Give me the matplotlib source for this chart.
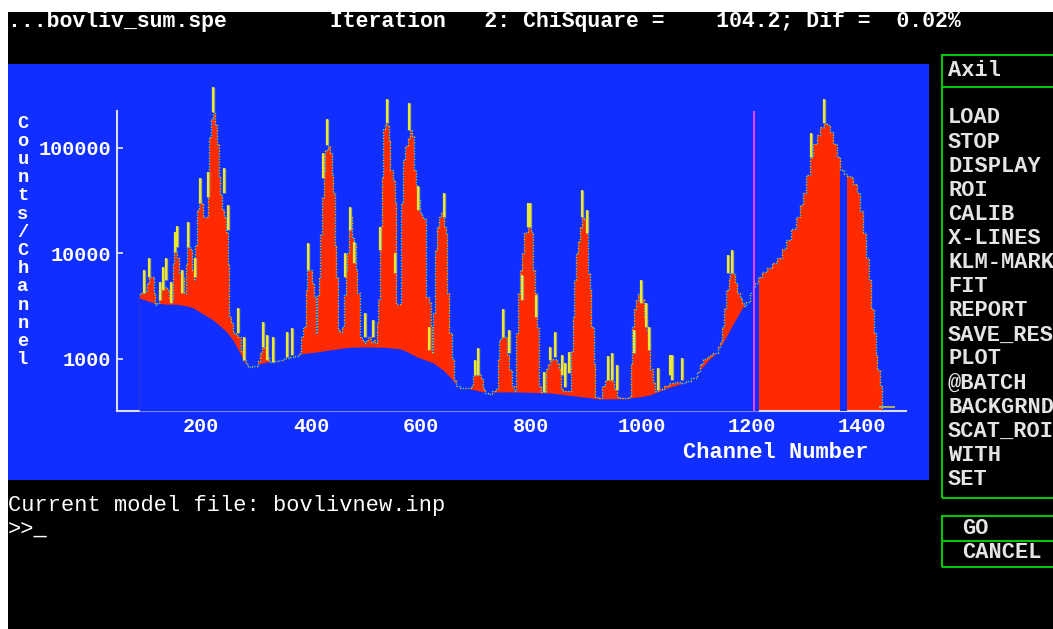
import numpy as np
import matplotlib.pyplot as plt
from matplotlib.patches import Rectangle
from matplotlib.lines import Line2D
from matplotlib.ticker import NullLocator

plt.rcParams['font.family'] = ['Liberation Mono', 'DejaVu Sans Mono']
plt.rcParams['font.weight'] = 'bold'

W, H = 1053, 629  # screen size, pixels

spec_ch = [88, 92, 97, 102, 105, 110, 114, 117, 121, 124, 127, 133, 138, 142, 146,
           149, 151, 156, 160, 166, 170, 173, 175, 180, 184, 187, 190, 193, 197, 201,
           204, 208, 212, 215, 219, 222, 226, 229, 232, 235, 238, 242, 245, 249, 251,
           255, 258, 263, 268, 272, 276, 281, 285, 289, 293, 298, 303, 307, 311, 316,
           320, 324, 330, 340, 350, 360, 370, 378, 382, 386, 390, 393, 402, 405, 408,
           411, 414, 417, 420, 423, 425, 430, 435, 438, 440, 443, 446, 449, 453, 456,
           460, 463, 465, 468, 471, 474, 477, 481, 484, 488, 492, 496, 500, 504, 508,
           512, 516, 519, 522, 525, 528, 531, 534, 538, 541, 544, 548, 552, 555, 562,
           564, 567, 571, 575, 579, 583, 586, 590, 594, 597, 601, 605, 608, 614, 617,
           620, 622, 625, 628, 632, 636, 639, 642, 645, 647, 651, 655, 659, 663, 670,
           680, 690, 694, 698, 704, 708, 712, 716, 722, 728, 735, 739, 742, 745, 752,
           756, 760, 764, 768, 772, 776, 779, 782, 786, 790, 793, 799, 802, 806, 810,
           813, 818, 824, 826, 830, 834, 840, 846, 850, 854, 858, 866, 872, 875, 878,
           881, 884, 888, 891, 896, 899, 902, 906, 909, 913, 916, 922, 928, 934, 940,
           946, 950, 955, 961, 968, 976, 980, 983, 986, 989, 993, 997, 1001, 1005, 1009,
           1012, 1016, 1020, 1024, 1030, 1040, 1050, 1060, 1070, 1080, 1090, 1100, 1106, 1112, 1118,
           1124, 1130, 1136, 1139, 1142, 1146, 1150, 1154, 1158, 1161, 1166, 1170, 1174, 1178, 1182,
           1186, 1190, 1196, 1202, 1206, 1212, 1218, 1227, 1236, 1245, 1254, 1263, 1272, 1281, 1287,
           1293, 1299, 1306, 1312, 1318, 1324, 1331, 1336, 1342, 1348, 1354, 1361, 1367, 1373, 1378,
           1384, 1391, 1396, 1402, 1407, 1412, 1417, 1421, 1425, 1428, 1433, 1436]
spec_cnt = [4100, 4230, 4400, 5200, 6000, 5990, 4200, 3250, 3400, 4400, 4800, 4800, 4500, 3800, 3620,
            8000, 10300, 9000, 6500, 6000, 4200, 8000, 11500, 11000, 7000, 5600, 12000, 26000, 32000, 30000,
            22000, 22000, 40000, 127000, 190000, 218000, 165000, 110000, 53000, 36000, 26000, 22000, 16000, 8000, 2500,
            2200, 1760, 1700, 1620, 1200, 980, 900, 840, 830, 850, 860, 950, 1150, 1300, 1250,
            1050, 940, 950, 980, 1010, 1040, 1070, 1150, 1600, 2000, 4500, 6950, 5200, 3870, 1760,
            4000, 6000, 15000, 34000, 60000, 95000, 105000, 90000, 55000, 37400, 12000, 6000, 1880, 1800, 2000,
            4000, 7000, 10100, 18000, 22000, 14000, 12600, 7000, 4200, 1620, 1500, 1420, 1500, 1620, 1450,
            1500, 1420, 2200, 3600, 18000, 53000, 150000, 170000, 165000, 120000, 62000, 50000, 30000, 3300, 3300,
            30000, 77000, 105000, 125000, 148000, 130000, 62000, 43000, 33000, 24000, 22000, 21000, 3870, 3500, 2000,
            1140, 2700, 10800, 18000, 22000, 24000, 26000, 18000, 15500, 4200, 1760, 1000, 630, 560, 530,
            530, 550, 700, 705, 720, 650, 520, 475, 470, 500, 520, 1000, 1500, 1620, 1600,
            1100, 786, 550, 500, 1760, 4200, 7000, 10000, 15500, 16000, 17800, 16000, 7000, 4200, 2000,
            550, 490, 500, 800, 900, 980, 990, 920, 800, 520, 500, 500, 1200, 2500, 5600,
            10000, 13000, 18000, 22000, 21000, 15500, 6500, 4500, 2000, 900, 436, 430, 560, 630, 640,
            620, 520, 440, 430, 430, 440, 900, 2000, 3000, 3600, 4100, 4230, 3700, 2500, 1800,
            1450, 800, 600, 500, 520, 560, 590, 600, 590, 620, 660, 760, 900, 1000, 1050,
            1100, 1130, 1140, 1300, 1450, 2000, 3000, 4500, 5800, 6530, 6400, 5200, 4200, 3800, 3400,
            3200, 3500, 4200, 4810, 5200, 5990, 6600, 7260, 8100, 9060, 11000, 13400, 17000, 22200, 29000,
            37400, 55000, 82200, 110000, 133000, 158000, 172000, 165000, 141000, 110000, 82000, 62000, 57000, 54000, 53000,
            46000, 37400, 25000, 15500, 9000, 5600, 3000, 1760, 1100, 790, 550, 321]

# fitted continuum under the peaks
bg_ch = [88, 100, 115, 138, 156, 174, 186, 198, 210, 222, 235, 247, 258, 265, 271,
         277, 283, 290, 300, 310, 320, 340, 356, 380, 410, 440, 470, 500, 531, 561,
         576, 592, 607, 622, 640, 652, 664, 683, 712, 773, 834, 894, 925, 966, 1000,
         1015, 1046, 1075, 1106, 1120, 1136, 1150, 1165, 1184, 1202, 1212]
bg_cnt = [3790, 3600, 3400, 3300, 3300, 3180, 3050, 2790, 2560, 2340, 2050, 1800, 1510, 1300, 1140,
          980, 877, 850, 880, 910, 935, 980, 1020, 1115, 1165, 1230, 1290, 1300, 1290, 1250,
          1160, 1045, 980, 916, 780, 675, 567, 530, 487, 487, 476, 436, 418, 420, 440,
          456, 530, 590, 786, 960, 1140, 1500, 2100, 3120, 4810, 5990]

# residual markers (yellow bars): channel, lower and upper count
res_ch = [97, 106, 126, 131, 136, 145, 152, 157, 165, 176, 189, 198, 213, 222, 242,
          249, 268, 278, 312, 320, 331, 356, 365, 394, 421, 428, 461, 470, 478, 498,
          512, 525, 537, 552, 578, 594, 614, 641, 697, 703, 748, 759, 783, 793, 797,
          808, 823, 834, 843, 855, 861, 868, 891, 900, 939, 946, 955, 986, 999, 1008,
          1014, 1030, 1052, 1055, 1073, 1157, 1165, 1307, 1332]
res_lo = [4230, 5990, 3630, 4510, 5610, 3400, 10300, 11500, 4230, 11500, 5990, 30100, 34300, 219000, 37400,
          16700, 1760, 979, 1300, 979, 937, 1040, 1090, 6980, 52000, 107000, 5990, 16700, 8130, 1620,
          1620, 10800, 173000, 6530, 148000, 25900, 1220, 22200, 705, 705, 1620, 1140, 3630, 17800, 17800,
          2500, 487, 979, 1040, 705, 543, 736, 22200, 15600, 632, 632, 508, 1140, 3400, 2010,
          1220, 508, 705, 632, 632, 6530, 6530, 82200, 173000]
res_hi = [6980, 9060, 5370, 7450, 9060, 5370, 16000, 18200, 6980, 19900, 9060, 52000, 59300, 378000, 64600,
          28800, 3040, 1620, 2240, 1690, 1620, 1800, 1970, 12600, 89700, 188000, 10100, 27600, 12800, 2730,
          2340, 17800, 291000, 10100, 267000, 43700, 2010, 37400, 979, 1270, 2980, 1880, 6250, 30100, 30100,
          4050, 753, 1300, 1800, 1090, 917, 1160, 40000, 25900, 1070, 1140, 877, 1880, 5610, 3400,
          2010, 822, 1090, 1090, 1020, 9680, 10800, 139000, 291000]

marker_ch = 1204          # magenta cursor
gap_ch = (1361, 1373)     # blank strip inside the last region
tail_ch = [1433, 1458]
tail_cnt = [350, 350]

x_ticks = [200, 400, 600, 800, 1000, 1200, 1400]
y_ticks = [1000, 10000, 100000]
y_labels = ['1000', '10000', '100000']

status_line = '...bovliv_sum.spe        Iteration   2: ChiSquare =    104.2; Dif =  0.02%'
menu_items = ['LOAD', 'STOP', 'DISPLAY', 'ROI', 'CALIB', 'X-LINES', 'KLM-MARK', 'FIT',
              'REPORT', 'SAVE_RES', 'PLOT', '@BATCH', 'BACKGRND', 'SCAT_ROI', 'WITH', 'SET']
buttons = ['GO', 'CANCEL']

BLUE = '#102eff'
RED = '#ff2a00'
CYAN = '#00d8ff'
ORANGE = '#ffb000'
YELLOW = '#ffff20'
OLIVE = '#a8a870'
MAGENTA = '#ff44ff'
GREEN = '#00c800'
AXIS = '#dcdcf0'
MENU_TXT = '#e4e4e4'

fig = plt.figure(figsize=(W / 100, H / 100), dpi=100, facecolor='white')


def fx(x):
    return x / W


def fy(y):
    return 1 - y / H


def box(x0, y0, x1, y1, z, **kw):
    r = Rectangle((fx(x0), fy(y1)), fx(x1) - fx(x0), fy(y0) - fy(y1),
                  transform=fig.transFigure, zorder=z, **kw)
    fig.add_artist(r)


def hline(x0, x1, y, color):
    fig.add_artist(Line2D([fx(x0), fx(x1)], [fy(y), fy(y)], color=color, lw=1.5,
                          transform=fig.transFigure, zorder=-1))


# screen background
box(8, 12, W + 5, H + 5, -3, color='black', lw=0)
box(8, 64, 929, 480, -2, color=BLUE, lw=0)

# menu boxes
box(942, 55, W + 10, 498, -1, facecolor='none', edgecolor=GREEN, lw=1.5)
hline(942, W + 10, 87, GREEN)
box(942, 516, W + 10, 567, -1, facecolor='none', edgecolor=GREEN, lw=1.5)
hline(942, W + 10, 541, GREEN)

# spectrum axes
ax = fig.add_axes([fx(117), fy(411), fx(906) - fx(117), fy(111) - fy(411)], zorder=1)
ax.set_facecolor('none')
ax.set_yscale('log')
ax.set_xlim(47.6, 1480)
y_floor = 321
ax.set_ylim(y_floor, 224000)

ax.fill_between(spec_ch, y_floor, spec_cnt, step='post', color=RED, lw=0, zorder=2)
ax.fill_between(bg_ch, y_floor, bg_cnt, color=BLUE, lw=0, zorder=3)
sel = [i for i, c in enumerate(spec_ch) if gap_ch[0] <= c <= gap_ch[1]]
ax.fill_between([spec_ch[i] for i in sel], y_floor, [spec_cnt[i] for i in sel],
                step='post', color=BLUE, lw=0, zorder=3)

# data points along the spectrum edge
ax.step(spec_ch, spec_cnt, where='post', color=CYAN, lw=1.0, ls=(0, (1, 3)), zorder=4)
ax.step(spec_ch, spec_cnt, where='post', color=ORANGE, lw=1.0, ls=(2, (1, 3)), zorder=4)
ax.plot(tail_ch, tail_cnt, color=OLIVE, lw=1.5, zorder=4)

ax.vlines(res_ch, res_lo, res_hi, color=OLIVE, lw=2.4, zorder=5, clip_on=False)
ax.vlines(res_ch, res_lo, res_hi, color=YELLOW, lw=1.1, zorder=6, clip_on=False)
ax.axvline(marker_ch, color=MAGENTA, lw=1.3, zorder=5)

ax.set_xticks(x_ticks, [str(t) for t in x_ticks])
ax.set_yticks(y_ticks, y_labels)
ax.yaxis.set_minor_locator(NullLocator())
ax.tick_params(direction='in', length=4, width=1.3, color=AXIS, labelcolor='white',
               labelsize=14.6, pad=4)
for s in ['top', 'right']:
    ax.spines[s].set_visible(False)
for s in ['left', 'bottom']:
    ax.spines[s].set_color(AXIS)
    ax.spines[s].set_linewidth(1.5)

# axis titles
fig.text(fx(683), fy(452), 'Channel Number', color='white', fontsize=15.8, va='center')
for i, c in enumerate('Counts/Channel'):
    fig.text(fx(23), fy(123 + i * 18.2), c, color='white', fontsize=13.5,
             ha='center', va='center')

# text lines of the screen
fig.text(fx(8), fy(22), status_line, color='white', fontsize=15.5, va='center')
fig.text(fx(8), fy(505), 'Current model file: bovlivnew.inp', color='white',
         fontsize=15.8, va='center', weight='normal')
fig.text(fx(8), fy(529), '>>_', color='white', fontsize=15.8, va='center', weight='normal')

fig.text(fx(948), fy(70), 'Axil', color=MENU_TXT, fontsize=15.8, va='center')
for i, item in enumerate(menu_items):
    fig.text(fx(948), fy(118 + i * 24.1), item, color=MENU_TXT, fontsize=15.8, va='center')
for i, b in enumerate(buttons):
    fig.text(fx(962), fy(529 + i * 24), b, color=MENU_TXT, fontsize=15.8, va='center')

fig.savefig('out.png', dpi=100, facecolor=fig.get_facecolor())
